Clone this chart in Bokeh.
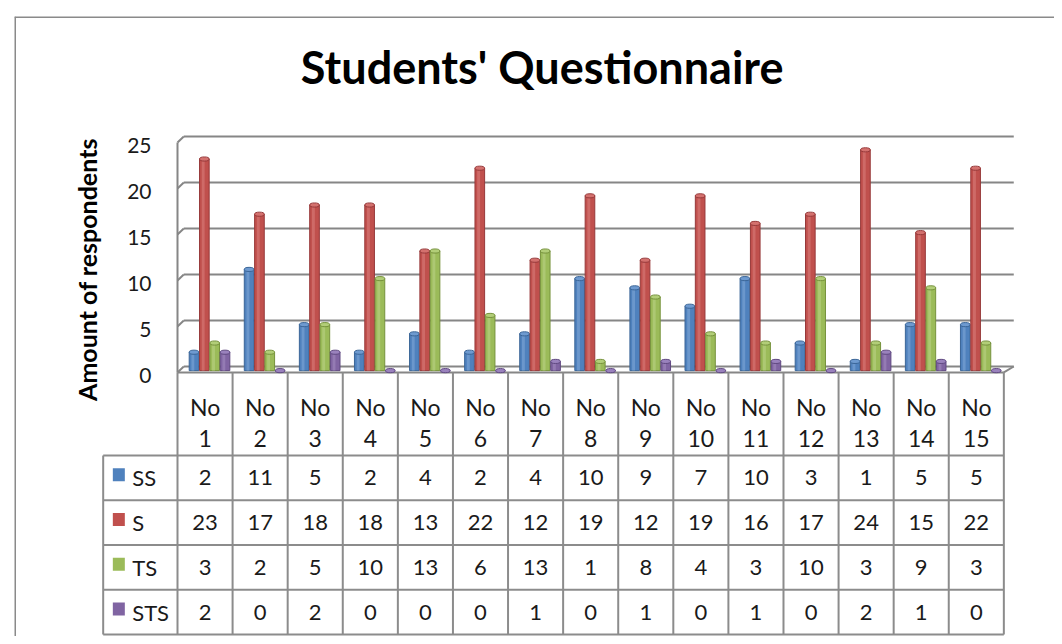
import numpy as np
from bokeh.plotting import figure
from bokeh.models import Range1d, Span
from bokeh.core.properties import value
from bokeh.embed import file_html
from bokeh.resources import INLINE

# ---------------- data ----------------
categories = ["No 1", "No 2", "No 3", "No 4", "No 5", "No 6", "No 7", "No 8",
              "No 9", "No 10", "No 11", "No 12", "No 13", "No 14", "No 15"]
series_names = ["SS", "S", "TS", "STS"]
ss = [2, 11, 5, 2, 4, 2, 4, 10, 9, 7, 10, 3, 1, 5, 5]
s = [23, 17, 18, 18, 13, 22, 12, 19, 12, 19, 16, 17, 24, 15, 22]
ts = [3, 2, 5, 10, 13, 6, 13, 1, 8, 4, 3, 10, 3, 9, 3]
sts = [2, 0, 2, 0, 0, 0, 1, 0, 1, 0, 1, 0, 2, 1, 0]
series_values = [ss, s, ts, sts]
y_ticks = [0, 5, 10, 15, 20, 25]
y_tick_labels = ["0", "5", "10", "15", "20", "25"]
title_text = "Students' Questionnaire"
y_title_text = "Amount of respondents"

# ---------------- styles ----------------
colors = ["#4F81BD", "#C0504D", "#9BBB59", "#8064A2"]
dark = ["#3A6597", "#97393A", "#76923C", "#5F4880"]
light = ["#8FB2DE", "#E08A88", "#C4DA93", "#AC97C8"]
caps = ["#6E9AD0", "#D4716E", "#B2CE78", "#9A82BD"]
FONT = value("Lato")
GRID_C = "#868686"
TBL_C = "#8C8C8C"
TXT_C = "#1A1A1A"

n = len(categories)
X0, X1 = -2.9588, 15.9194         # x layout range (category units)
Y0, Y1 = -29.348, 38.04           # value axis layout range
T0, T1 = -0.0447, 13.81           # table layout range (row units)
DX_L, DX_R, DY = 0.114, 0.18, 0.65  # 3-D depth offsets
LEG_L = -1.349                    # left edge of legend column
HDR_TOP = 5.855
BAR_W, BAR_STEP, GRP_C, BAR_SHIFT = 0.175, 0.1875, 0.581, 0.45

p = figure(width=1054, height=636,
           x_range=Range1d(X0, X1), y_range=Range1d(Y0, Y1),
           x_axis_location=None, y_axis_location=None,
           toolbar_location=None, output_backend="svg",
           min_border_left=14, min_border_top=16,
           min_border_right=0, min_border_bottom=0)
p.extra_y_ranges = {"tbl": Range1d(T0, T1)}
p.outline_line_color = None
p.background_fill_color = "white"
p.border_fill_color = "white"
for g in p.grid:
    g.visible = False

# outer chart border (left and top visible)
p.add_layout(Span(location=X0, dimension="height", line_color="#8A8A8A", line_width=3))
p.add_layout(Span(location=Y1, dimension="width", line_color="#8A8A8A", line_width=3))

# title
p.text(x=[6.62], y=[32.6], text=[title_text], text_font=FONT, text_font_style="bold",
       text_font_size="45px", text_align="center", text_baseline="alphabetic",
       text_color="black")

# y axis title
p.text(x=[-1.64], y=[10.54], text=[y_title_text], angle=np.pi / 2,
       text_font=FONT, text_font_style="bold", text_font_size="25px",
       text_align="center", text_baseline="middle", text_color="black")

# back wall gridlines with 3-D corner slants
p.segment(x0=[DX_L] * len(y_ticks), x1=[n + DX_R] * len(y_ticks),
          y0=y_ticks, y1=y_ticks, line_color=GRID_C, line_width=2)
p.segment(x0=[0] * len(y_ticks), x1=[DX_L] * len(y_ticks),
          y0=[t - DY for t in y_ticks], y1=y_ticks, line_color=GRID_C, line_width=2)
# left wall edge and floor front edge
p.segment(x0=[0], x1=[0], y0=[-DY], y1=[y_ticks[-1] - DY], line_color=GRID_C, line_width=2)
p.segment(x0=[0], x1=[n], y0=[-DY], y1=[-DY], line_color=GRID_C, line_width=2)
p.segment(x0=[n], x1=[n + DX_R], y0=[-DY], y1=[0], line_color=GRID_C, line_width=2)

# tick labels
p.text(x=[-0.472] * len(y_ticks), y=[t - 0.98 for t in y_ticks], text=y_tick_labels,
       text_font=FONT, text_font_size="21px", text_align="right",
       text_baseline="middle", text_color=TXT_C)

# bars (cylinder-like)
idx = np.arange(n)
for j, vals in enumerate(series_values):
    xs = idx + GRP_C + (j - 1.5) * BAR_STEP
    tops = np.array(vals, dtype=float) - BAR_SHIFT
    p.vbar(x=xs, width=BAR_W, top=tops, bottom=-BAR_SHIFT,
           fill_color=colors[j], line_color=dark[j], line_width=1)
    p.vbar(x=xs - BAR_W * 0.12, width=BAR_W * 0.3, top=tops, bottom=-BAR_SHIFT,
           fill_color=light[j], fill_alpha=0.45, line_color=None)
    p.ellipse(x=xs, y=tops, width=BAR_W, height=0.45,
              fill_color=caps[j], line_color=dark[j], line_width=1)

# data table grid
rows = len(series_names)
p.segment(x0=[LEG_L] * (rows + 1), x1=[n] * (rows + 1),
          y0=list(range(rows + 1)), y1=list(range(rows + 1)),
          line_color=TBL_C, line_width=2, y_range_name="tbl")
p.segment(x0=[LEG_L], x1=[LEG_L], y0=[0], y1=[rows],
          line_color=TBL_C, line_width=2, y_range_name="tbl")
p.segment(x0=list(range(n + 1)), x1=list(range(n + 1)),
          y0=[0] * (n + 1), y1=[HDR_TOP] * (n + 1),
          line_color=TBL_C, line_width=2, y_range_name="tbl")

# header labels (two lines)
first = [c.split(" ")[0] for c in categories]
second = [c.split(" ")[1] for c in categories]
p.text(x=idx + 0.5, y=[5.09] * n, text=first, text_font=FONT, text_font_size="23px",
       text_align="center", text_baseline="middle", text_color=TXT_C, y_range_name="tbl")
p.text(x=idx + 0.5, y=[4.38] * n, text=second, text_font=FONT, text_font_size="23px",
       text_align="center", text_baseline="middle", text_color=TXT_C, y_range_name="tbl")

# table values and legend keys
for j, vals in enumerate(series_values):
    yc = rows - 0.5 - j
    p.text(x=idx + 0.5, y=[yc] * n, text=[str(v) for v in vals], text_font=FONT,
           text_font_size="22px", text_align="center", text_baseline="middle",
           text_color=TXT_C, y_range_name="tbl")
    p.rect(x=[-1.065], y=[yc + 0.07], width=12, height=13, width_units="screen",
           height_units="screen", fill_color=colors[j], line_color=None, y_range_name="tbl")
    p.text(x=[-0.822], y=[yc], text=[series_names[j]], text_font=FONT,
           text_font_size="22px", text_align="left", text_baseline="middle",
           text_color=TXT_C, y_range_name="tbl")

open("out.html", "w").write(file_html(p, INLINE))
